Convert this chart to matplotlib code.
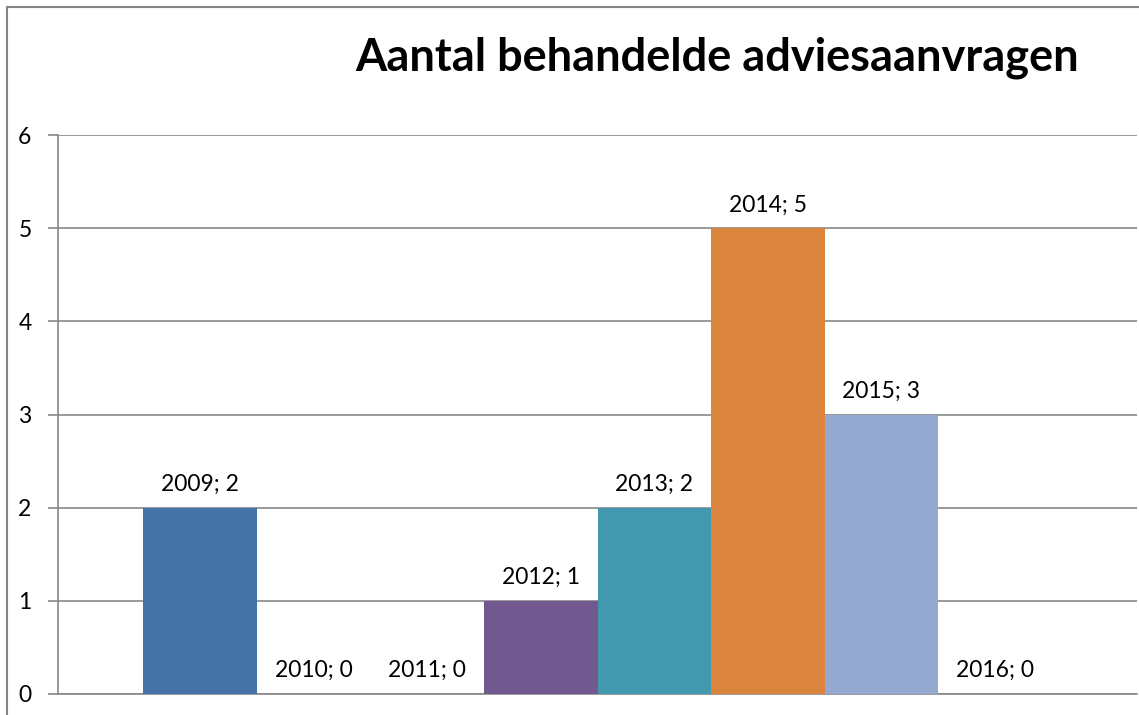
import matplotlib.pyplot as plt
from matplotlib.patches import Rectangle

plt.rcParams['font.family'] = ['Lato', 'DejaVu Sans']

years = ['2009', '2010', '2011', '2012', '2013', '2014', '2015', '2016']
counts = [2, 0, 0, 1, 2, 5, 3, 0]
colors = ['#4572A7', '#AA4643', '#89A54E', '#71588F',
          '#4198AF', '#DB843D', '#93A9CF', '#B9CD96']
title = 'Aantal behandelde adviesaanvragen'

W, H = 1139, 715
fig = plt.figure(figsize=(W / 100, H / 100), dpi=100)
ax = fig.add_axes([58 / W, 21 / H, (1137 - 58) / W, (694 - 135) / H])

grid = '#888888'
pos = list(range(len(years)))
ax.bar(pos, counts, width=1.0, color=colors, zorder=3)

for x, y, v in zip(pos, counts, counts):
    ax.annotate(f'{years[x]}; {v}', (x, y), xytext=(0, 12),
                textcoords='offset points', ha='center', va='baseline',
                fontsize=16.5, color='black')

ax.set_xlim(-1.25, 8.25)
ax.set_ylim(0, 6)
ax.set_yticks(range(7))
ax.set_xticks([])
ax.grid(axis='y', color=grid, linewidth=1.2, zorder=0)
for s in ['top', 'right']:
    ax.spines[s].set_visible(False)
for s in ['left', 'bottom']:
    ax.spines[s].set_color(grid)
    ax.spines[s].set_linewidth(1.2)
ax.tick_params(axis='y', length=7, width=1.2, color=grid, pad=12,
               labelsize=16.5)

fig.text(717 / W, 1 - 58 / H, title, ha='center', va='center',
         fontsize=32.5, fontweight='bold')

fig.patches.append(Rectangle((7 / W, -0.1), 1.2, 1.1 - 7 / H,
                             transform=fig.transFigure, fill=False,
                             edgecolor='#868686', linewidth=1.5))

fig.savefig('out.png', dpi=100)
